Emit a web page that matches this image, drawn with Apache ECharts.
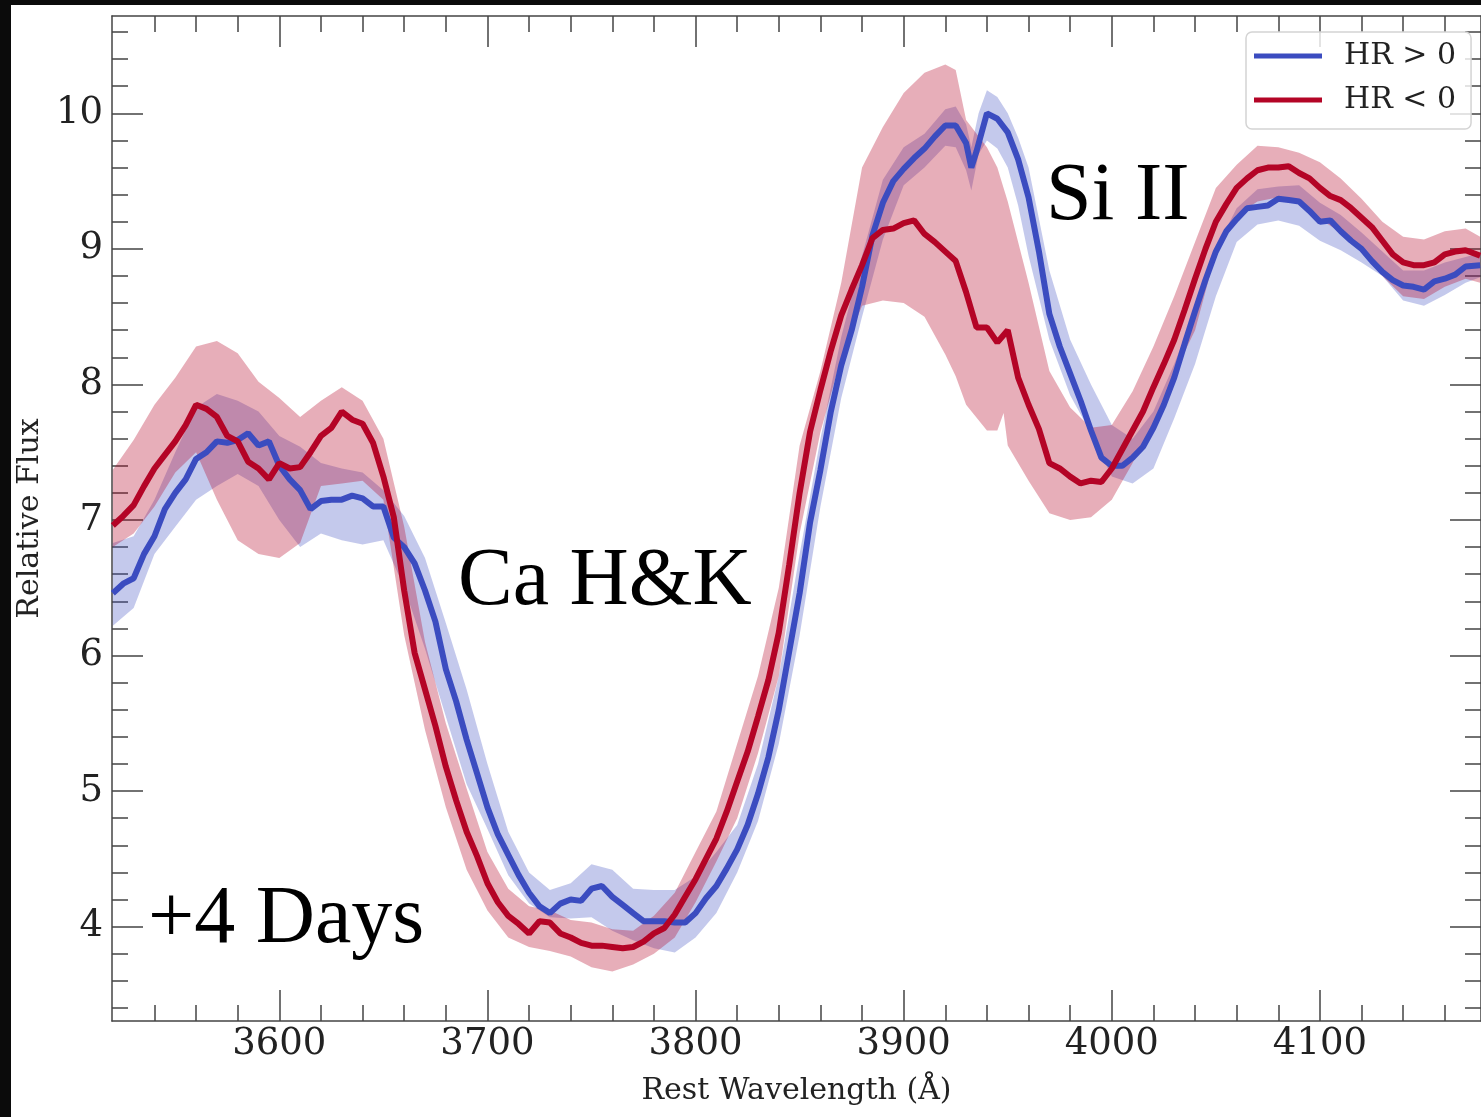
<!DOCTYPE html>
<html><head><meta charset="utf-8">
<script src="https://cdn.jsdelivr.net/npm/echarts@6/dist/echarts.min.js"></script>
<style>html,body{margin:0;padding:0;background:#fff;overflow:hidden;} #c{width:1481px;height:1117px;}</style>
</head><body><div id="c"></div>
<script>
// ---------- data ----------
const xTickLabels = [3600, 3700, 3800, 3900, 4000, 4100];
const xMinorTicks = [3540,3560,3580,3620,3640,3660,3680,3720,3740,3760,3780,3820,3840,3860,3880,3920,3940,3960,3980,4020,4040,4060,4080,4120,4140,4160];
const yTickLabels = [4, 5, 6, 7, 8, 9, 10];
const yMinorTicks = [3.4,3.6,3.8,4.2,4.4,4.6,4.8,5.2,5.4,5.6,5.8,6.2,6.4,6.6,6.8,7.2,7.4,7.6,7.8,8.2,8.4,8.6,8.8,9.2,9.4,9.6,9.8,10.2,10.4,10.6];

const seriesNames = ['HR > 0', 'HR < 0'];

// [wavelength, flux]
const blueLine = [[3520,6.46],[3525,6.53],[3530,6.57],[3535,6.75],[3540,6.88],[3545,7.08],[3550,7.20],[3555,7.30],[3560,7.45],[3565,7.50],[3570,7.58],[3575,7.57],[3580,7.59],[3585,7.64],[3590,7.55],[3595,7.58],[3600,7.40],[3605,7.30],[3610,7.22],[3615,7.08],[3620,7.14],[3625,7.15],[3630,7.15],[3635,7.18],[3640,7.16],[3645,7.10],[3650,7.10],[3655,6.87],[3660,6.80],[3665,6.68],[3670,6.48],[3675,6.25],[3680,5.90],[3685,5.66],[3690,5.38],[3695,5.13],[3700,4.88],[3705,4.68],[3710,4.53],[3715,4.38],[3720,4.25],[3725,4.15],[3730,4.10],[3735,4.17],[3740,4.20],[3745,4.19],[3750,4.28],[3755,4.30],[3760,4.22],[3765,4.16],[3770,4.10],[3775,4.04],[3780,4.04],[3785,4.04],[3790,4.03],[3795,4.03],[3800,4.10],[3805,4.21],[3810,4.30],[3815,4.43],[3820,4.57],[3825,4.75],[3830,4.98],[3835,5.25],[3840,5.60],[3845,6.03],[3850,6.46],[3855,6.98],[3860,7.37],[3865,7.80],[3870,8.14],[3875,8.40],[3880,8.72],[3885,9.10],[3890,9.34],[3895,9.50],[3900,9.59],[3905,9.67],[3910,9.74],[3915,9.83],[3920,9.91],[3925,9.91],[3930,9.78],[3932.5,9.60],[3935,9.72],[3940,10.0],[3945,9.96],[3950,9.86],[3955,9.66],[3960,9.38],[3965,8.98],[3970,8.52],[3975,8.28],[3980,8.08],[3985,7.88],[3990,7.66],[3995,7.46],[4000,7.40],[4005,7.40],[4010,7.46],[4015,7.54],[4020,7.68],[4025,7.85],[4030,8.05],[4035,8.30],[4040,8.54],[4045,8.77],[4050,8.98],[4055,9.13],[4060,9.22],[4065,9.30],[4070,9.31],[4075,9.32],[4080,9.37],[4085,9.36],[4090,9.35],[4095,9.28],[4100,9.20],[4105,9.21],[4110,9.13],[4115,9.06],[4120,9.00],[4125,8.91],[4130,8.83],[4135,8.77],[4140,8.73],[4145,8.72],[4150,8.70],[4155,8.76],[4160,8.78],[4165,8.81],[4170,8.87],[4177,8.88]];

const redLine = [[3520,6.96],[3525,7.03],[3530,7.11],[3535,7.25],[3540,7.38],[3545,7.48],[3550,7.58],[3555,7.70],[3560,7.85],[3565,7.82],[3570,7.76],[3575,7.62],[3580,7.58],[3585,7.43],[3590,7.38],[3595,7.30],[3600,7.42],[3605,7.38],[3610,7.39],[3615,7.50],[3620,7.62],[3625,7.68],[3630,7.80],[3635,7.74],[3640,7.71],[3645,7.57],[3650,7.32],[3655,7.02],[3660,6.48],[3665,6.02],[3670,5.75],[3675,5.48],[3680,5.18],[3685,4.93],[3690,4.70],[3695,4.52],[3700,4.32],[3705,4.18],[3710,4.08],[3715,4.02],[3720,3.95],[3725,4.04],[3730,4.03],[3735,3.95],[3740,3.92],[3745,3.88],[3750,3.86],[3755,3.86],[3760,3.85],[3765,3.84],[3770,3.85],[3775,3.89],[3780,3.95],[3785,3.99],[3790,4.09],[3795,4.22],[3800,4.35],[3805,4.50],[3810,4.65],[3815,4.85],[3820,5.07],[3825,5.29],[3830,5.55],[3835,5.82],[3840,6.17],[3845,6.67],[3850,7.20],[3855,7.65],[3860,7.96],[3865,8.25],[3870,8.51],[3875,8.70],[3880,8.88],[3885,9.08],[3890,9.14],[3895,9.15],[3900,9.19],[3905,9.21],[3910,9.11],[3915,9.05],[3920,8.98],[3925,8.91],[3930,8.68],[3935,8.42],[3940,8.42],[3945,8.31],[3950,8.40],[3955,8.05],[3960,7.85],[3965,7.67],[3970,7.42],[3975,7.38],[3980,7.32],[3985,7.27],[3990,7.29],[3995,7.28],[4000,7.38],[4005,7.52],[4010,7.66],[4015,7.80],[4020,7.98],[4025,8.15],[4030,8.33],[4035,8.55],[4040,8.78],[4045,9.00],[4050,9.20],[4055,9.33],[4060,9.45],[4065,9.52],[4070,9.58],[4075,9.60],[4080,9.60],[4085,9.61],[4090,9.56],[4095,9.52],[4100,9.45],[4105,9.39],[4110,9.36],[4115,9.30],[4120,9.23],[4125,9.16],[4130,9.06],[4135,8.96],[4140,8.90],[4145,8.88],[4150,8.88],[4155,8.90],[4160,8.96],[4165,8.98],[4170,8.99],[4177,8.95]];

// [wavelength, lower, upper]
const blueBand = [[3520,6.22,6.83],[3530,6.35,6.88],[3540,6.75,7.15],[3550,6.95,7.50],[3560,7.15,7.83],[3570,7.25,7.93],[3580,7.34,7.88],[3590,7.25,7.80],[3600,7.00,7.62],[3610,6.80,7.54],[3620,6.90,7.42],[3630,6.85,7.38],[3640,6.82,7.35],[3650,6.85,7.22],[3660,6.50,7.03],[3670,6.05,6.72],[3680,5.55,6.24],[3690,5.05,5.75],[3700,4.72,5.20],[3710,4.38,4.70],[3720,4.17,4.40],[3730,4.07,4.27],[3740,4.06,4.32],[3750,4.07,4.46],[3760,3.97,4.42],[3770,3.90,4.28],[3780,3.84,4.27],[3790,3.81,4.27],[3800,3.92,4.37],[3810,4.10,4.55],[3820,4.40,4.75],[3830,4.78,5.20],[3840,5.35,5.85],[3850,6.15,6.75],[3860,7.10,7.60],[3870,7.90,8.35],[3880,8.50,8.95],[3890,9.07,9.51],[3900,9.47,9.75],[3910,9.60,9.85],[3920,9.76,10.03],[3925,9.75,10.05],[3930,9.58,9.92],[3932.5,9.43,9.75],[3936,9.70,10.00],[3940,9.80,10.17],[3945,9.74,10.12],[3950,9.60,10.00],[3955,9.32,9.82],[3960,8.95,9.60],[3970,8.33,8.84],[3980,7.92,8.33],[3990,7.64,8.00],[4000,7.32,7.70],[4010,7.27,7.60],[4020,7.38,7.80],[4030,7.75,8.15],[4040,8.15,8.55],[4050,8.65,9.00],[4060,9.05,9.30],[4070,9.18,9.44],[4080,9.21,9.46],[4090,9.17,9.47],[4100,9.06,9.34],[4110,8.99,9.25],[4120,8.90,9.12],[4130,8.80,8.98],[4140,8.62,8.84],[4150,8.58,8.84],[4160,8.66,8.90],[4170,8.75,8.94],[4177,8.79,8.97]];

const redBand = [[3520,6.80,7.37],[3530,6.90,7.59],[3540,7.10,7.85],[3550,7.35,8.05],[3560,7.50,8.28],[3570,7.15,8.32],[3580,6.85,8.23],[3590,6.75,8.02],[3600,6.72,7.90],[3610,6.83,7.76],[3620,7.25,7.88],[3630,7.27,7.98],[3640,7.29,7.88],[3650,7.15,7.60],[3660,6.15,6.95],[3670,5.45,6.10],[3680,4.88,5.50],[3690,4.42,5.02],[3700,4.12,4.55],[3710,3.92,4.28],[3720,3.85,4.15],[3730,3.82,4.12],[3740,3.78,4.05],[3750,3.70,4.03],[3760,3.67,3.98],[3770,3.72,3.97],[3780,3.80,4.08],[3790,3.92,4.25],[3800,4.18,4.55],[3810,4.48,4.85],[3820,4.80,5.35],[3830,5.28,5.85],[3840,5.85,6.50],[3850,6.90,7.55],[3860,7.65,8.10],[3870,8.20,8.75],[3880,8.58,9.60],[3890,8.62,9.90],[3900,8.60,10.15],[3910,8.50,10.30],[3920,8.22,10.36],[3925,8.06,10.32],[3930,7.85,9.95],[3940,7.66,9.75],[3945,7.66,9.60],[3948,7.79,9.45],[3950,7.55,9.35],[3960,7.29,8.75],[3970,7.05,8.10],[3980,7.00,7.83],[3990,7.02,7.68],[4000,7.15,7.70],[4010,7.42,7.95],[4020,7.72,8.28],[4030,8.08,8.65],[4040,8.40,9.05],[4050,8.97,9.45],[4060,9.25,9.62],[4070,9.35,9.76],[4080,9.38,9.75],[4090,9.33,9.71],[4100,9.22,9.64],[4110,9.12,9.52],[4120,8.98,9.37],[4130,8.80,9.20],[4140,8.65,9.09],[4150,8.63,9.07],[4160,8.72,9.13],[4170,8.78,9.15],[4177,8.75,9.09]];

const annotations = ['Ca H&K', 'Si II', '+4 Days'];

// ---------- chart ----------
const BLUE = '#3b4cc0', RED = '#b40426';
const X_MIN = 3519.6, X_MAX = 4177.4, Y_MIN = 3.304, Y_MAX = 10.718;
const SPINE = {color: '#444', width: 1.5};
const LABEL_FONT = 'DejaVu Serif';

function xAxisDef(pos, ticks, len, labels, showLine, extra) {
  return Object.assign({
    type: 'value', position: pos, min: X_MIN, max: X_MAX, gridIndex: 0,
    axisLine: {show: showLine, onZero: false, lineStyle: SPINE},
    axisTick: {show: true, inside: true, length: len, customValues: ticks, lineStyle: SPINE},
    axisLabel: labels ? {show: true, customValues: labels, fontFamily: LABEL_FONT, fontSize: 37, color: '#222', margin: 5, formatter: v => String(v)} : {show: false},
    splitLine: {show: false}, minorTick: {show: false}
  }, extra || {});
}
function yAxisDef(pos, ticks, len, labels, showLine, extra) {
  return Object.assign({
    type: 'value', position: pos, min: Y_MIN, max: Y_MAX, gridIndex: 0,
    axisLine: {show: showLine, onZero: false, lineStyle: SPINE},
    axisTick: {show: true, inside: true, length: len, customValues: ticks, lineStyle: SPINE},
    axisLabel: labels ? {show: true, customValues: labels, fontFamily: LABEL_FONT, fontSize: 37, color: '#222', margin: 9, formatter: v => String(v)} : {show: false},
    splitLine: {show: false}, minorTick: {show: false}
  }, extra || {});
}

function bandSeries(name, band, color) {
  return {
    type: 'custom', name: name, silent: true, z: 2, clip: true,
    xAxisIndex: 0, yAxisIndex: 0,
    data: [[band[0][0], band[0][1]]],
    encode: {x: 0, y: 1},
    renderItem: function (params, api) {
      const pts = [];
      for (let i = 0; i < band.length; i++) pts.push(api.coord([band[i][0], band[i][2]]));
      for (let i = band.length - 1; i >= 0; i--) pts.push(api.coord([band[i][0], band[i][1]]));
      return {type: 'polygon', shape: {points: pts}, style: {fill: color}};
    }
  };
}

const chart = echarts.init(document.getElementById('c'), null, {renderer: 'canvas'});
chart.setOption({
  animation: false,
  backgroundColor: '#fff',
  grid: {left: 112, top: 16, width: 1370, height: 1005, containLabel: false},
  xAxis: [
    xAxisDef('bottom', xTickLabels, 31, xTickLabels, true, {
      name: 'Rest Wavelength (Å)', nameLocation: 'middle', nameGap: 55,
      nameTextStyle: {fontFamily: LABEL_FONT, fontSize: 30, color: '#222'}
    }),
    xAxisDef('bottom', xMinorTicks, 16, null, false),
    xAxisDef('top', xTickLabels, 31, null, true),
    xAxisDef('top', xMinorTicks, 16, null, false)
  ],
  yAxis: [
    yAxisDef('left', yTickLabels, 31, yTickLabels, true, {
      name: 'Relative Flux', nameLocation: 'middle', nameGap: 58,
      nameTextStyle: {fontFamily: LABEL_FONT, fontSize: 30, color: '#222'}
    }),
    yAxisDef('left', yMinorTicks, 16, null, false),
    yAxisDef('right', yTickLabels, 31, null, true),
    yAxisDef('right', yMinorTicks, 16, null, false)
  ],
  legend: {
    data: seriesNames, orient: 'vertical', left: 1246, top: 32,
    padding: [9, 15, 14, 8], itemGap: 14, itemWidth: 68, itemHeight: 5, icon: 'rect',
    borderColor: '#d4d4d4', borderWidth: 1.5, borderRadius: 6,
    backgroundColor: 'rgba(255,255,255,0.8)', selectedMode: false,
    textStyle: {fontFamily: LABEL_FONT, fontSize: 30, lineHeight: 30, color: '#222', padding: [0, 0, 0, 17]}
  },
  series: [
    bandSeries('blueBand', blueBand, 'rgba(59,76,192,0.3)'),
    bandSeries('redBand', redBand, 'rgba(180,4,38,0.32)'),
    {type: 'line', name: seriesNames[0], data: blueLine, showSymbol: false, symbol: 'none', z: 4,
     color: BLUE, lineStyle: {width: 6, color: BLUE}, itemStyle: {color: BLUE}},
    {type: 'line', name: seriesNames[1], data: redLine, showSymbol: false, symbol: 'none', z: 5,
     color: RED, lineStyle: {width: 6, color: RED}, itemStyle: {color: RED}}
  ],
  graphic: [
    {type: 'rect', z: 100, shape: {x: 0, y: 0, width: 11, height: 1117}, style: {fill: '#0b0b0b'}},
    {type: 'rect', z: 100, shape: {x: 0, y: 0, width: 1481, height: 5}, style: {fill: '#0b0b0b'}},
    {type: 'text', z: 50, style: {text: annotations[0], x: 458, y: 582, verticalAlign: 'middle', font: '82px "Liberation Serif"', fill: '#000'}},
    {type: 'text', z: 50, style: {text: annotations[1], x: 1046, y: 197, verticalAlign: 'middle', font: '82px "Liberation Serif"', fill: '#000'}},
    {type: 'text', z: 50, style: {text: annotations[2], x: 148, y: 920, verticalAlign: 'middle', font: '82px "Liberation Serif"', fill: '#000'}}
  ]
});
</script>
</body></html>
